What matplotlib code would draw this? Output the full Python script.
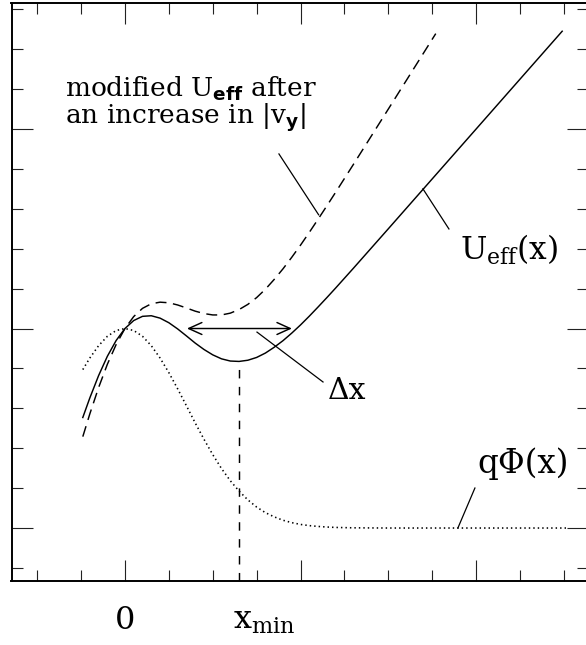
import matplotlib
matplotlib.use("Agg")
import matplotlib.pyplot as plt
from matplotlib.ticker import MultipleLocator
from matplotlib.patches import FancyArrowPatch

plt.rcParams['font.family'] = ['DejaVu Serif']
plt.rcParams['mathtext.fontset'] = 'custom'
plt.rcParams['mathtext.rm'] = 'DejaVu Serif'
plt.rcParams['mathtext.it'] = 'DejaVu Serif:italic'
plt.rcParams['mathtext.bf'] = 'DejaVu Serif:bold'
plt.rcParams['mathtext.sf'] = 'DejaVu Sans:bold'

# Sample positions (x) shared by the curved part of all three curves
x_grid = [-0.24, -0.20, -0.15, -0.10, -0.05, 0.00, 0.05, 0.10, 0.15, 0.20,
          0.25, 0.30, 0.35, 0.40, 0.45, 0.50, 0.55, 0.60, 0.65, 0.70,
          0.75, 0.80, 0.85, 0.90, 0.95, 1.00, 1.05, 1.10, 1.15, 1.20]

# Electrostatic potential energy q*Phi(x)
phi_x = x_grid + [1.30, 1.50, 2.00, 2.52]
phi_y = [0.794, 0.852, 0.914, 0.961, 0.990, 1.000, 0.990, 0.961, 0.914, 0.852,
         0.779, 0.698, 0.613, 0.527, 0.445, 0.368, 0.298, 0.237, 0.185, 0.141,
         0.105, 0.077, 0.056, 0.039, 0.027, 0.018, 0.012, 0.008, 0.005, 0.003,
         0.001, 0.000, 0.000, 0.000]

# Effective potential U_eff(x)
ueff_x = x_grid + [1.30, 1.50, 2.00, 2.49]
ueff_y = [0.554, 0.652, 0.764, 0.861, 0.940, 1.000, 1.040, 1.061, 1.064, 1.052,
          1.029, 0.998, 0.963, 0.927, 0.895, 0.868, 0.848, 0.837, 0.835, 0.841,
          0.855, 0.877, 0.906, 0.939, 0.977, 1.018, 1.062, 1.108, 1.155, 1.203,
          1.301, 1.500, 2.000, 2.490]

# Modified effective potential after |v_y| increases
umod_x = x_grid + [1.30, 1.50, 1.77]
umod_y = [0.458, 0.572, 0.704, 0.821, 0.920, 1.000, 1.060, 1.101, 1.124, 1.132,
          1.129, 1.118, 1.103, 1.087, 1.075, 1.068, 1.068, 1.077, 1.095, 1.121,
          1.155, 1.197, 1.246, 1.299, 1.357, 1.418, 1.482, 1.548, 1.615, 1.683,
          1.821, 2.100, 2.478]

# Position and value of the U_eff minimum
x_min = 0.65
u_min = 0.835

# Width of the trapping region at level 1
dx_left = 0.353
dx_right = 0.951
dx_level = 1.0

xlim = (-0.646, 2.637)
ylim = (-0.264, 2.633)

W, H = 586, 645
fig = plt.figure(figsize=(W / 100, H / 100), dpi=100)
ax = fig.add_axes([11.5 / W, (H - 580.7) / H, (588 - 11.5) / W, (580.7 - 2.7) / H])
ax.set_xlim(*xlim)
ax.set_ylim(*ylim)

ax.xaxis.set_major_locator(MultipleLocator(1.0))
ax.xaxis.set_minor_locator(MultipleLocator(0.25))
ax.yaxis.set_major_locator(MultipleLocator(1.0))
ax.yaxis.set_minor_locator(MultipleLocator(0.2))
ax.tick_params(which='both', direction='in', top=True, right=True,
               labelbottom=False, labelleft=False, width=0.8, color='#222222')
ax.tick_params(which='major', length=15)
ax.tick_params(which='minor', length=8)
for s in ax.spines.values():
    s.set_linewidth(1.4)

lw = 1.05
ax.plot(phi_x, phi_y, color='black', lw=1.15, linestyle=(0, (0.9, 1.9)))
ax.plot(ueff_x, ueff_y, color='black', lw=lw)
ax.plot(umod_x, umod_y, color='black', lw=lw, linestyle=(0, (7.5, 4.5)))
ax.plot([x_min, x_min], [u_min, ylim[0]], color='black', lw=lw,
        linestyle=(5.8, (5.8, 5.8)))

arrow = FancyArrowPatch((dx_left, dx_level), (dx_right, dx_level),
                        arrowstyle='<->,head_length=9.5,head_width=4.3',
                        mutation_scale=1, lw=lw, color='black',
                        shrinkA=0, shrinkB=0)
ax.add_patch(arrow)

# Leader lines from labels to curves
leaders = [
    ((0.877, 1.875), (1.103, 1.570)),
    ((1.697, 1.700), (1.845, 1.499)),
    ((0.752, 0.982), (1.128, 0.732)),
    ((1.993, 0.2005), (1.896, 0.0)),
]
for (xa, ya), (xb, yb) in leaders:
    ax.plot([xa, xb], [ya, yb], color='black', lw=0.9)

ax.text(-0.342, 2.162, r'modified U$_\mathsf{eff}$ after', fontsize=19,
        va='baseline', ha='left')
ax.text(-0.342, 2.032, r'an increase in |v$_\mathsf{y}$|', fontsize=19,
        va='baseline', ha='left')
ax.text(1.908, 1.343, r'U$_\mathrm{eff}$(x)', fontsize=22.5, va='baseline', ha='left')
ax.text(1.157, 0.647, 'Δx', fontsize=21.5, va='baseline', ha='left')
ax.text(2.005, 0.276, 'qΦ(x)', fontsize=23.5, va='baseline', ha='left')

ax.text(0.0, -0.506, '0', fontsize=23, va='baseline', ha='center', clip_on=False)
ax.text(0.615, -0.506, r'x$_\mathrm{min}$', fontsize=23, va='baseline', ha='left',
        clip_on=False)

fig.savefig('out.png', dpi=100)
